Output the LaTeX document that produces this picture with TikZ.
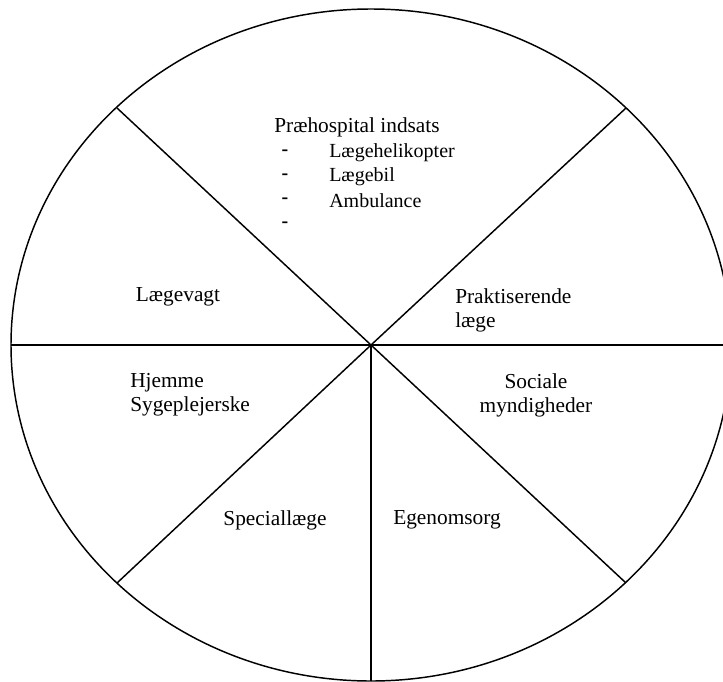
\documentclass[tikz,border=0pt]{standalone}
\usepackage{fontspec}
\setmainfont{Liberation Serif}
\usetikzlibrary{positioning}
\tikzset{
    wheel/.style  = {x=0.75pt, y=-0.75pt},
    rim/.style    = {line width=1.1pt},
    spoke/.style  = {line width=1.1pt},
    sector/.style = {font=\fontsize{16}{18}\selectfont, inner sep=0pt},
    item/.style   = {font=\fontsize{15}{18}\selectfont, inner sep=0pt,
                     anchor=west},
    hyph/.style   = {item, anchor=center, font=\fontsize{15}{18}\selectfont\bfseries}
}

\begin{document}
\begin{tikzpicture}[wheel]

\useasboundingbox (0,0) rectangle (723,681);

% Wheel outline and the seven spokes.
\coordinate (hub) at (371,345);
\draw[rim] (hub) ellipse [x radius=270pt, y radius=252pt];
\coordinate (rim-nw) at (117,108);
\coordinate (rim-ne) at (626,108);
\coordinate (rim-w)  at (11,345);
\coordinate (rim-e)  at (731,345);
\coordinate (rim-sw) at (117,583);
\coordinate (rim-se) at (626,583);
\coordinate (rim-s)  at (371,681);
\foreach \r in {nw,ne,w,e,sw,se,s}
    \draw[spoke] (hub) -- (rim-\r);

% Top sector with its list.
\node[sector] (pre) at (357,127) {Præhospital indsats};
\node[item] (heli) at (329,153) {Lægehelikopter};
\node[item] (bil)  at (329,177) {Lægebil};
\node[item] (amb)  at (329,201) {Ambulance};
\node[hyph] (heli-d) at (285,153) {-};
\node[hyph] (bil-d)  at (285,177) {-};
\node[hyph] (amb-d)  at (285,201) {-};
\node[hyph] (last-d) at (285,225) {-};

% Remaining sectors.
\node[sector] (vagt) at (178,297) {Lægevagt};
\node[sector, align=left, anchor=west] (prakt) at (455,310)
    {Praktiserende\\læge};
\node[sector, align=center] (social) at (536,395) {Sociale\\myndigheder};
\node[sector, align=left, anchor=west] (hjem) at (130,395)
    {Hjemme\\Sygeplejerske};
\node[sector] (spec) at (275,520) {Speciallæge};
\node[sector] (ego)  at (447,520) {Egenomsorg};

\end{tikzpicture}
\end{document}
